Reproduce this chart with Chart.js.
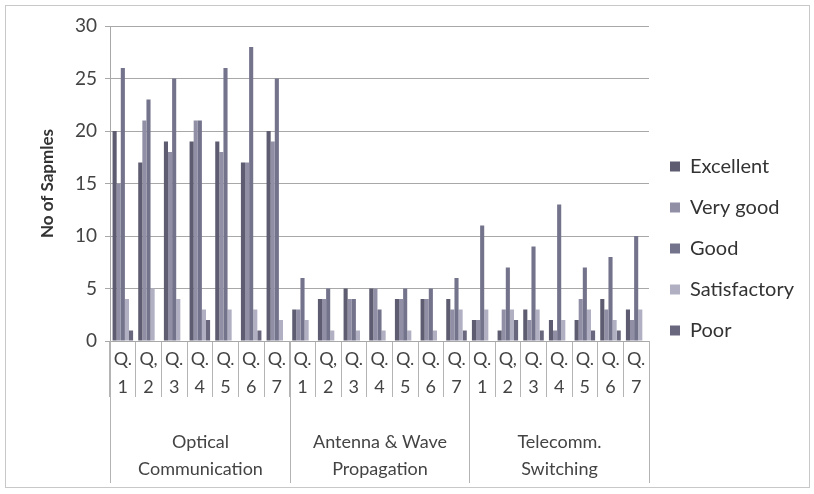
<!DOCTYPE html>
<html><head><meta charset="utf-8">
<script src="https://cdn.jsdelivr.net/npm/chart.js@4"></script>
<style>
html,body{margin:0;padding:0;background:#fff;}
#wrap{position:relative;width:814px;height:494px;}
#frame{position:absolute;left:5px;top:5px;width:803px;height:481px;border:1px solid #c8c8c8;pointer-events:none;}
canvas{position:absolute;left:0;top:0;}
</style></head>
<body><div id="wrap"><canvas id="c" width="814" height="494"></canvas><div id="frame"></div></div>
<script>
// ---- data ----
const questions = [["Q.","1"],["Q,","2"],["Q.","3"],["Q.","4"],["Q.","5"],["Q.","6"],["Q.","7"],
                   ["Q.","1"],["Q,","2"],["Q.","3"],["Q.","4"],["Q.","5"],["Q.","6"],["Q.","7"],
                   ["Q.","1"],["Q,","2"],["Q.","3"],["Q.","4"],["Q.","5"],["Q.","6"],["Q.","7"]];
const groups = [["Optical","Communication"],["Antenna & Wave","Propagation"],["Telecomm.","Switching"]];
const groupSizes = [7,7,7];
const seriesNames = ["Excellent","Very good","Good","Satisfactory","Poor"];
const excellent    = [20,17,19,19,19,17,20, 3,4,5,5,4,4,4, 2,1,3,2,2,4,3];
const veryGood     = [15,21,18,21,18,17,19, 3,4,4,5,4,4,3, 2,3,2,1,4,3,2];
const good         = [26,23,25,21,26,28,25, 6,5,4,3,5,5,6, 11,7,9,13,7,8,10];
const satisfactory = [4,5,4,3,3,3,2, 2,1,1,1,1,1,3, 3,3,3,2,3,2,3];
const poor         = [1,0,0,2,0,1,0, 0,0,0,0,0,0,1, 0,2,1,0,1,1,0];
const yTicks = {min:0, max:30, step:5};
const yTitle = "No of Sapmles";

// ---- styles ----
const colors = ["#5d5c70","#908fa6","#74738c","#b1b0c3","#68677e"];
const FONT = "Lato";
const gridColor = "#b4b4b4";

const seriesValues = [excellent, veryGood, good, satisfactory, poor];
const datasets = seriesNames.map((n,i)=>({
  label:n, data:seriesValues[i], backgroundColor:colors[i],
  borderWidth:0, categoryPercentage:0.8, barPercentage:1.0
}));

const bg = {id:'bg', beforeDraw(c){const x=c.ctx;x.save();x.fillStyle='#fff';x.fillRect(0,0,c.width,c.height);x.restore();}};
const legendShift = {id:'legendShift', afterLayout(c){ if(c.legend){ c.legend.top += 35; c.legend.bottom += 35; } }};

// group labels and long separators under the category axis, positioned from the x scale
const groupAxis = {id:'groupAxis', afterDraw(c){
  const xs = c.scales.x, ctx = c.ctx;
  const half = (xs.getPixelForValue(1) - xs.getPixelForValue(0)) / 2;
  const y0 = xs.top, y1 = xs.bottom + 82;
  ctx.save();
  ctx.strokeStyle = gridColor; ctx.lineWidth = 1;
  ctx.fillStyle = '#444'; ctx.font = '18px ' + FONT;
  ctx.textAlign = 'center'; ctx.textBaseline = 'middle';
  let start = 0;
  const edge = i => Math.round(xs.getPixelForValue(i) - half) + 0.5;
  for (let g = 0; g < groups.length; g++) {
    const end = start + groupSizes[g];
    const a = edge(start), b = (end >= questions.length) ? Math.round(xs.getPixelForValue(end-1) + half) + 0.5 : edge(end);
    ctx.beginPath(); ctx.moveTo(a, y0); ctx.lineTo(a, y1); ctx.stroke();
    if (g === groups.length - 1) { ctx.beginPath(); ctx.moveTo(b, y0); ctx.lineTo(b, y1); ctx.stroke(); }
    const cx = (a + b) / 2;
    groups[g].forEach((line, k) => ctx.fillText(line, cx, xs.bottom + 41 + k * 27));
    start = end;
  }
  ctx.restore();
}};

new Chart(document.getElementById('c'), {
  type:'bar',
  data:{labels:questions, datasets},
  plugins:[bg, legendShift, groupAxis],
  options:{
    responsive:false, animation:false,
    layout:{padding:{top:26,left:0,right:10,bottom:93}},
    plugins:{
      legend:{position:'right', fullSize:true, labels:{boxWidth:10, boxHeight:10, padding:21, color:'#333', font:{family:FONT,size:20}}},
      tooltip:{enabled:false}
    },
    scales:{
      x:{
        type:'category', offset:true,
        grid:{offset:true, drawOnChartArea:false, tickLength:56, color:gridColor},
        border:{color:'#a8a8a8'},
        ticks:{padding:-52, autoSkip:false, maxRotation:0, color:'#444', font:{family:FONT,size:18,lineHeight:1.55}},
        afterFit(s){s.height=60;}
      },
      y:{
        min:yTicks.min, max:yTicks.max,
        ticks:{stepSize:yTicks.step, color:'#444', padding:8, font:{family:FONT,size:19}},
        grid:{color:'#a8a8a8', tickLength:5},
        border:{color:'#a8a8a8'},
        title:{display:true, text:yTitle, color:'#333', padding:{top:37,bottom:0}, font:{family:FONT,size:17,weight:'bold'}},
        afterFit(s){s.width=110;}
      }
    }
  }
});
</script>
</body></html>
